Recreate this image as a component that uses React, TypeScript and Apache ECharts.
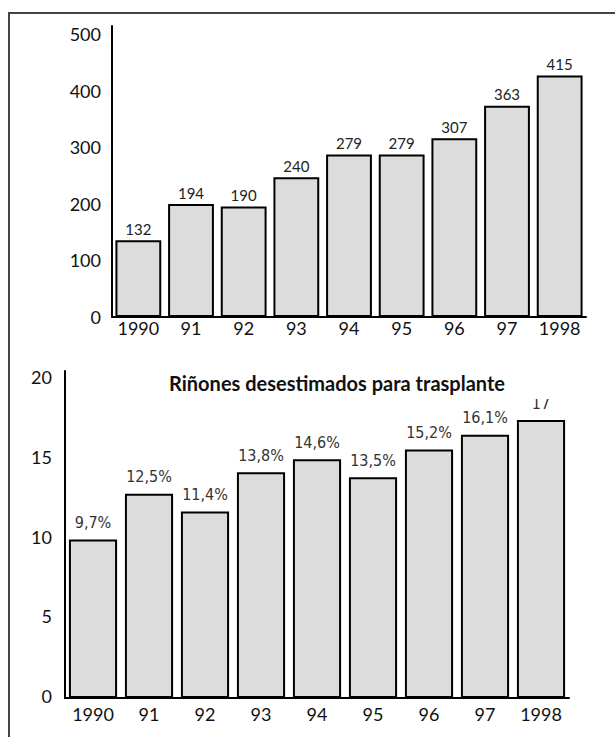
import React, { useEffect, useRef } from "react";
import * as echarts from "echarts";

const years = ["1990", "91", "92", "93", "94", "95", "96", "97", "1998"];
const kidneys = [132, 194, 190, 240, 279, 279, 307, 363, 415];
const discarded = [9.7, 12.5, 11.4, 13.8, 14.6, 13.5, 15.2, 16.1, 17];
const discardedLabels = ["9,7%", "12,5%", "11,4%", "13,8%", "14,6%", "13,5%", "15,2%", "16,1%", "17"];
const title = "Riñones desestimados para trasplante";

const FONT = "Lato, 'Open Sans', sans-serif";
const NARROW = "'Liberation Sans Narrow', 'DejaVu Sans Condensed', sans-serif";

export default function App() {
  const ref = useRef<HTMLDivElement>(null);
  useEffect(() => {
    const chart = echarts.init(ref.current!, null, { renderer: "svg" });
    const axisLine = { show: true, lineStyle: { color: "#000", width: 2 } };
    const axisLabel = { color: "#111", fontFamily: FONT, fontSize: 18 };
    const hidden = { show: false };
    chart.setOption({
      animation: false,
      backgroundColor: "#fff",
      title: {
        text: title,
        left: 332,
        top: 368,
        textAlign: "center",
        textStyle: { fontFamily: FONT, fontWeight: "bold", fontSize: 20, color: "#111" },
      },
      grid: [
        { left: 112, top: 26, width: 474, height: 291 },
        { left: 65, top: 371, width: 504, height: 327 },
        { left: 112, top: 34, width: 474, height: 283 },
        { left: 65, top: 377, width: 504, height: 319 },
      ],
      xAxis: [
        {
          type: "category", gridIndex: 0, data: years,
          axisLine, axisTick: hidden,
          axisLabel: { ...axisLabel, margin: 2, interval: 0 },
        },
        {
          type: "category", gridIndex: 1, data: years,
          axisLine, axisTick: hidden,
          axisLabel: { ...axisLabel, margin: 7, interval: 0 },
        },
        { type: "category", gridIndex: 2, data: years, show: false },
        { type: "category", gridIndex: 3, data: years, show: false },
      ],
      yAxis: [
        {
          type: "value", gridIndex: 0, min: 0, max: 500, interval: 100,
          axisLine, axisTick: hidden, splitLine: hidden, axisLabel: hidden,
        },
        {
          type: "value", gridIndex: 1, min: 0, max: 20, interval: 5,
          axisLine, axisTick: hidden, splitLine: hidden, axisLabel: hidden,
        },
        {
          type: "value", gridIndex: 2, min: 0, max: 500, interval: 100,
          axisLine: hidden, axisTick: hidden, splitLine: hidden,
          axisLabel: { ...axisLabel, margin: 11 },
        },
        {
          type: "value", gridIndex: 3, min: 0, max: 20, interval: 5,
          axisLine: hidden, axisTick: hidden, splitLine: hidden,
          axisLabel: { ...axisLabel, margin: 13 },
        },
      ],
      series: [
        {
          type: "bar", xAxisIndex: 0, yAxisIndex: 0, data: kidneys,
          barCategoryGap: "13%",
          itemStyle: { color: "#dcdcdc", borderColor: "#000", borderWidth: 2 },
          label: { show: true, position: "top", distance: 4, color: "#222", fontFamily: FONT, fontSize: 15 },
        },
        {
          type: "bar", xAxisIndex: 1, yAxisIndex: 1, data: discarded,
          barCategoryGap: "14%",
          itemStyle: { color: "#dcdcdc", borderColor: "#000", borderWidth: 2 },
          label: {
            show: true, position: "top", distance: 9, color: "#333", fontFamily: NARROW, fontSize: 16,
            formatter: (p: any) => discardedLabels[p.dataIndex],
          },
        },
      ],
      graphic: [
        {
          type: "rect", z: 90,
          shape: { x: 524, y: 384, width: 40, height: 15 },
          style: { fill: "#fff" },
        },
        {
          type: "rect", z: 100,
          shape: { x: 9, y: 13, width: 640, height: 760 },
          style: { fill: "none", stroke: "#444", lineWidth: 2 },
        },
      ],
    });
    return () => chart.dispose();
  }, []);
  return (
    <div
      ref={ref}
      style={{ position: "fixed", left: 0, top: 0, width: 615, height: 737 }}
    />
  );
}
